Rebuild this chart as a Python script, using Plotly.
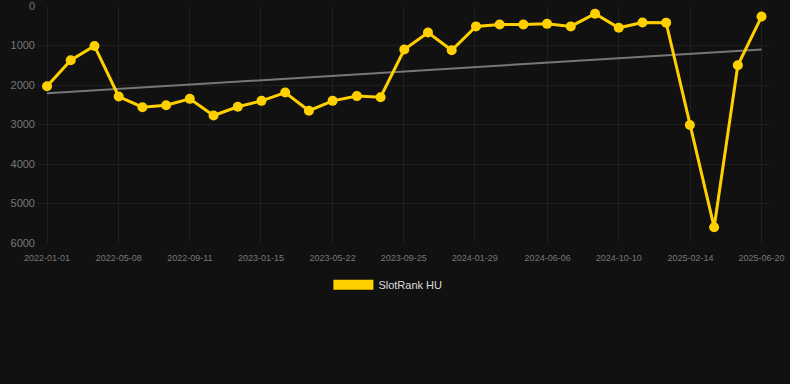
import plotly.graph_objects as go

dates = ["2022-01-01", "2022-02-12", "2022-03-26", "2022-05-08", "2022-06-19", "2022-07-31",
         "2022-09-11", "2022-10-23", "2022-12-05", "2023-01-16", "2023-02-27", "2023-04-10",
         "2023-05-22", "2023-07-04", "2023-08-15", "2023-09-26", "2023-11-07", "2023-12-19",
         "2024-01-31", "2024-03-13", "2024-04-24", "2024-06-05", "2024-07-17", "2024-08-29",
         "2024-10-10", "2024-11-21", "2025-01-02", "2025-02-13", "2025-03-28", "2025-05-09",
         "2025-06-20"]
ranks = [2030, 1370, 1010, 2290, 2560, 2510, 2350, 2770, 2550, 2400, 2190, 2650,
         2400, 2280, 2310, 1100, 670, 1120, 515, 465, 465, 450, 515, 195,
         550, 415, 420, 3010, 5600, 1500, 265]
trend_dates = ["2022-01-01", "2025-06-20"]
trend_vals = [2210, 1100]
tick_dates = ["2022-01-01", "2022-05-08", "2022-09-11", "2023-01-15", "2023-05-22",
              "2023-09-25", "2024-01-29", "2024-06-06", "2024-10-10", "2025-02-14", "2025-06-20"]
y_ticks = [0, 1000, 2000, 3000, 4000, 5000, 6000]
series_name = "SlotRank HU"

gold = "#FFD000"
fig = go.Figure()
fig.add_trace(go.Scatter(x=trend_dates, y=trend_vals, mode="lines",
                         line=dict(color="#777777", width=2), showlegend=False, hoverinfo="skip"))
fig.add_trace(go.Scatter(x=dates, y=ranks, mode="lines+markers", name=series_name,
                         line=dict(color=gold, width=3), marker=dict(color=gold, size=10),
                         showlegend=False))
fig.add_trace(go.Scatter(x=[None], y=[None], mode="lines", name=series_name,
                         line=dict(color=gold, width=12), showlegend=True))

fig.update_layout(
    width=790, height=384,
    margin=dict(l=38, r=20, t=6, b=141),
    paper_bgcolor="#111111", plot_bgcolor="#111111",
    font=dict(family="Liberation Sans, Arial, sans-serif", color="#777777"),
    showlegend=True,
    legend=dict(orientation="h", x=0.478, xanchor="center", y=-0.115, yanchor="top",
                font=dict(color="#dddddd", size=11), itemwidth=40, bgcolor="rgba(0,0,0,0)"),
    xaxis=dict(type="date", range=["2021-12-16", "2025-07-05"], tickvals=tick_dates,
               ticktext=tick_dates, tickfont=dict(size=9, color="#777777"),
               showgrid=True, gridcolor="#1f1f1f", gridwidth=1, zeroline=False,
               showline=False, ticks="", ticklabelstandoff=8, ticklabeloverflow="allow",
               automargin=False),
    yaxis=dict(range=[6000, -2], autorange=False, tickvals=y_ticks, tickfont=dict(size=11, color="#777777"),
               showgrid=True, gridcolor="#1f1f1f", gridwidth=1, zeroline=False,
               showline=False, ticks="", ticklabelstandoff=2, ticklabeloverflow="allow",
               automargin=False),
)
fig.write_html("out.html")
